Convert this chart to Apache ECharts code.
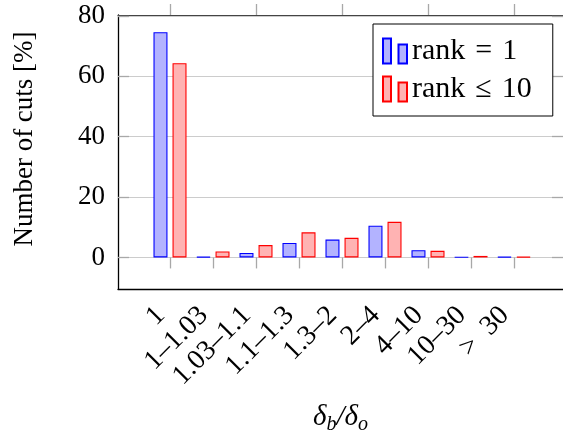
<!DOCTYPE html>
<html><head><meta charset="utf-8">
<script src="https://cdn.jsdelivr.net/npm/echarts@6/dist/echarts.min.js"></script>
<style>html,body{margin:0;padding:0;background:#fff}#c{width:563px;height:441px}</style>
</head><body><div id="c"></div>
<script>
// ---- data ----
const categories = ['1', '1\u20131.03', '1.03\u20131.1', '1.1\u20131.3', '1.3\u20132', '2\u20134', '4\u201310', '10\u201330', '>\u200230'];
const seriesNames = ['rank\u2004=\u20041', 'rank\u2004\u2264\u200410'];
const rank1 = [74.6, 0.2, 1.5, 4.8, 5.9, 10.5, 2.4, 0.1, 0.2];
const rank10 = [64.3, 2.0, 4.1, 8.3, 6.5, 11.8, 2.2, 0.5, 0.2];
const yTickMin = 0, yTickMax = 80, yTickStep = 20;
const yFrameMin = -10.45, yFrameMax = 80.27;
const yTitle = 'Number of cuts [%]';

// ---- layout / style ----
const FONT = 'Liberation Serif';
const frame = {left: 118, top: 15, width: 448, height: 274};
const range = yFrameMax - yFrameMin;
const gridC = {
  left: frame.left, width: frame.width,
  top: frame.top + frame.height * (yFrameMax - yTickMax) / range,
  height: frame.height * (yTickMax - yTickMin) / range
};
const gridB = {left: 148.5, width: 387, top: frame.top, height: frame.height};
const tickColor = '#a8a8a8';
const gridColor = '#cccccc';

const chart = echarts.init(document.getElementById('c'), null, {renderer: 'canvas'});
chart.setOption({
  animation: false,
  backgroundColor: '#fff',
  grid: [
    Object.assign({id: 'frame'}, frame),
    Object.assign({id: 'bars'}, gridB),
    Object.assign({id: 'yscale'}, gridC)
  ],
  legend: {
    orient: 'vertical', left: 373, top: 24,
    padding: [12, 21, 12, 9],
    itemWidth: 24, itemHeight: 25, itemGap: 8,
    icon: 'path://M0,0H8V25H0Z M15.5,6H24V25H15.5Z',
    borderColor: '#000', borderWidth: 1, backgroundColor: '#fff',
    textStyle: {fontFamily: FONT, fontSize: 30, color: '#000'},
    data: seriesNames
  },
  xAxis: [
    { gridIndex: 0, type: 'value', min: 0, max: 1, position: 'bottom',
      axisLine: {show: true, lineStyle: {color: '#000', width: 1.3}},
      axisTick: {show: false}, axisLabel: {show: false}, splitLine: {show: false},
      name: '{i|\u03b4}{s|b}{i|/\u03b4}{s|o}', nameLocation: 'middle', nameGap: 110,
      nameTextStyle: {rich: {
        i: {fontFamily: FONT, fontStyle: 'italic', fontSize: 29, lineHeight: 36, color: '#000'},
        s: {fontFamily: FONT, fontStyle: 'italic', fontSize: 20, lineHeight: 20, verticalAlign: 'bottom', color: '#000'}
      }}
    },
    { gridIndex: 0, type: 'value', min: 0, max: 1, position: 'top',
      axisLine: {show: true, lineStyle: {color: '#444', width: 1.2}},
      axisTick: {show: false}, axisLabel: {show: false}, splitLine: {show: false}
    },
    { gridIndex: 1, type: 'category', data: categories, position: 'bottom', boundaryGap: true,
      axisLine: {show: false},
      axisTick: {show: true, alignWithLabel: true, length: 11, lineStyle: {color: tickColor, width: 1.3}},
      axisLabel: {interval: 0, rotate: 45, margin: 13, hideOverlap: false, padding: [0, 13, 0, 0],
        fontFamily: FONT, fontSize: 28, color: '#000'},
      splitLine: {show: false}
    },
    { gridIndex: 1, type: 'category', data: categories, position: 'top', boundaryGap: true,
      axisLine: {show: false},
      axisTick: {show: true, alignWithLabel: true, length: 11, lineStyle: {color: tickColor, width: 1.3}},
      axisLabel: {show: false}, splitLine: {show: false}
    },
    { gridIndex: 2, type: 'value', show: false, min: 0, max: 1 }
  ],
  yAxis: [
    { gridIndex: 0, type: 'value', min: 0, max: 1, position: 'left',
      axisLine: {show: true, lineStyle: {color: '#000', width: 1.3}},
      axisTick: {show: false}, axisLabel: {show: false}, splitLine: {show: false},
      name: yTitle, nameLocation: 'middle', nameGap: 80, nameRotate: 90,
      nameTextStyle: {fontFamily: FONT, fontSize: 27, color: '#000', padding: [0, 0, 0, 26]}
    },
    { gridIndex: 1, type: 'value', min: yFrameMin, max: yFrameMax, show: false },
    { gridIndex: 2, type: 'value', min: yTickMin, max: yTickMax, interval: yTickStep, position: 'left',
      axisLine: {show: false},
      axisTick: {show: true, inside: true, length: 11, lineStyle: {color: tickColor, width: 1.3}},
      axisLabel: {margin: 13, fontFamily: FONT, fontSize: 27, color: '#000'},
      splitLine: {show: true, lineStyle: {color: gridColor, width: 1.2}}
    },
    { gridIndex: 2, type: 'value', min: yTickMin, max: yTickMax, interval: yTickStep, position: 'right',
      axisLine: {show: false},
      axisTick: {show: true, inside: true, length: 11, lineStyle: {color: tickColor, width: 1.3}},
      axisLabel: {show: false}, splitLine: {show: false}
    }
  ],
  series: [
    { name: seriesNames[0], type: 'bar', xAxisIndex: 2, yAxisIndex: 1, data: rank1,
      barWidth: 14, barGap: '36%',
      itemStyle: {color: '#b3b3ff', borderColor: '#0000ff', borderWidth: 1.1} },
    { name: seriesNames[1], type: 'bar', xAxisIndex: 2, yAxisIndex: 1, data: rank10,
      barWidth: 14, barGap: '36%',
      itemStyle: {color: '#ffb3b3', borderColor: '#ff0000', borderWidth: 1.1} }
  ]
});
</script></body></html>
